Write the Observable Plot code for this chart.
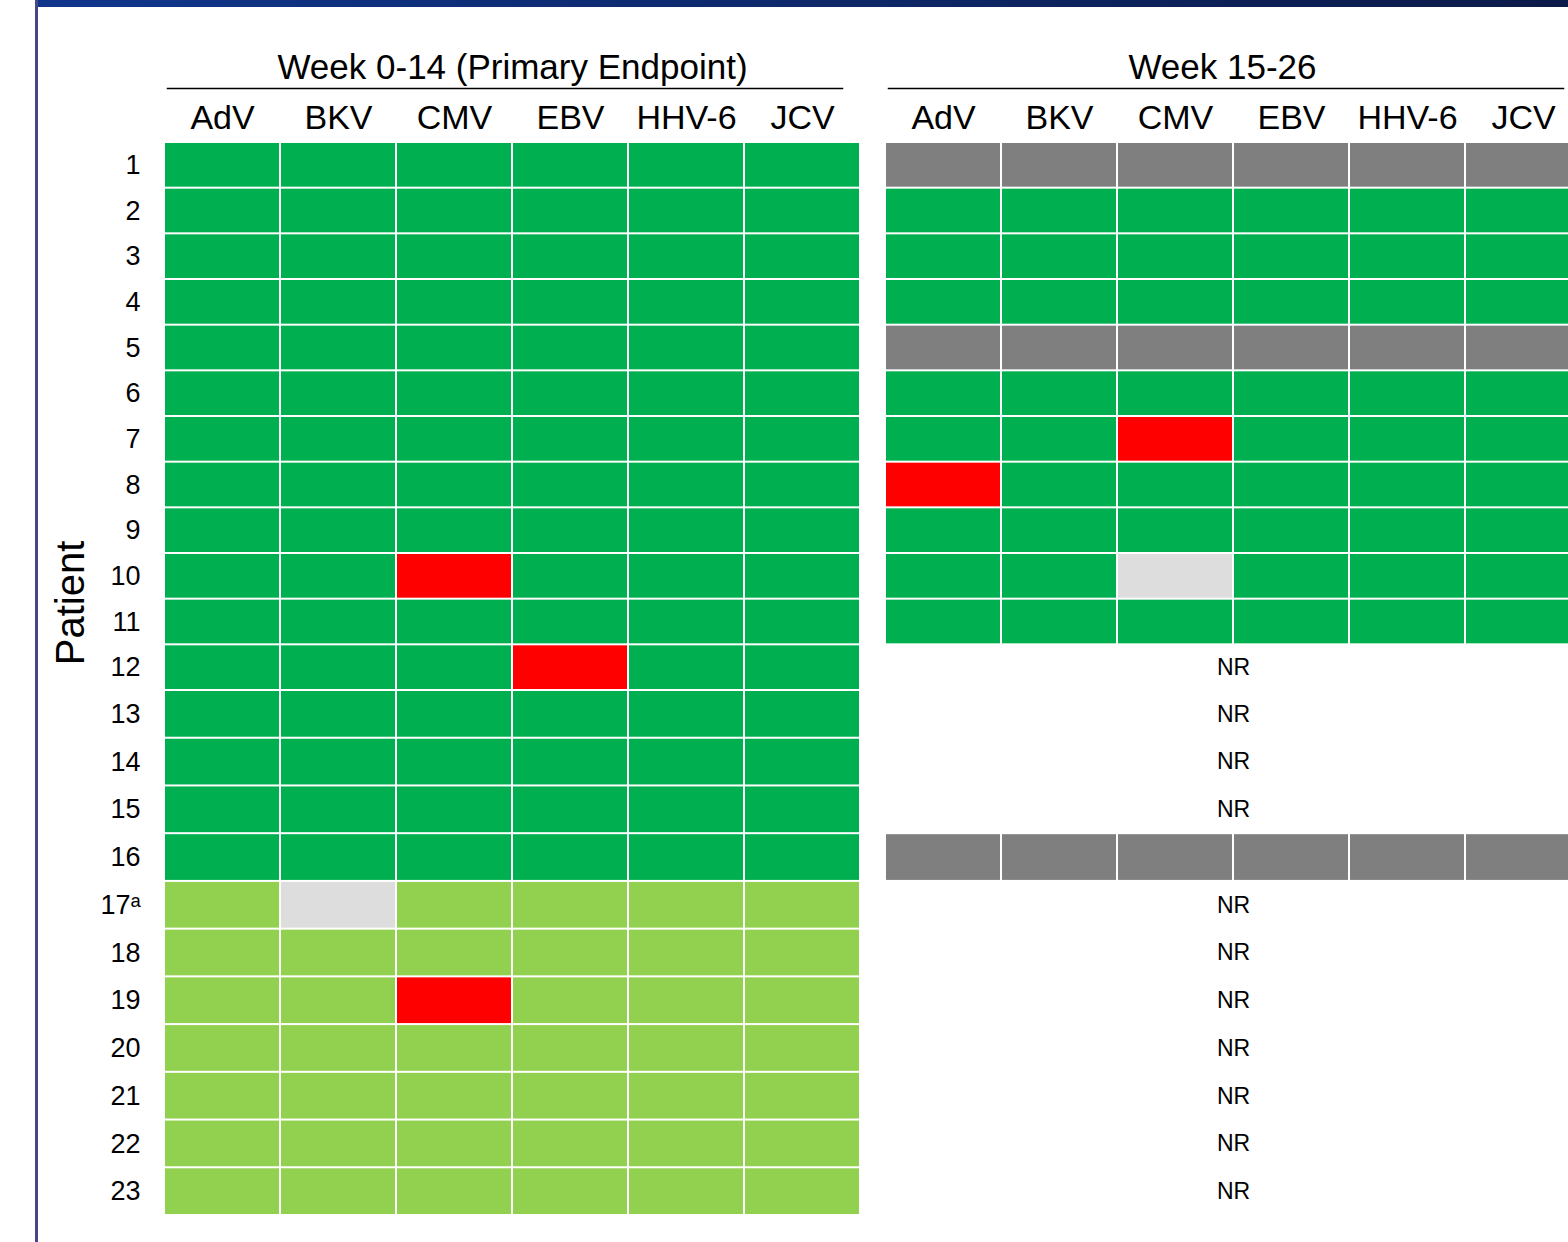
<!DOCTYPE html>
<html>
<head>
<meta charset="utf-8">
<script src="https://cdn.jsdelivr.net/npm/d3@7"></script>
<script src="https://cdn.jsdelivr.net/npm/@observablehq/plot@0.6"></script>
<style>
  html, body { margin: 0; padding: 0; background: #fff; overflow: hidden; width: 1568px; height: 1242px; }
  #topbar { position: absolute; left: 38px; top: 0; width: 1530px; height: 7px;
            background: linear-gradient(to right, #10368c, #0b1a48); }
  #leftline { position: absolute; left: 35px; top: 0; width: 3px; height: 1242px; background: #45478a; }
  #chart { position: absolute; left: 0; top: 0; }
</style>
</head>
<body>
<div id="topbar"></div>
<div id="leftline"></div>
<div id="chart"></div>
<script>
// ---- data ----
const periods = ["Week 0-14 (Primary Endpoint)", "Week 15-26"];
const viruses = ["AdV", "BKV", "CMV", "EBV", "HHV-6", "JCV"];
const patients = ["1","2","3","4","5","6","7","8","9","10","11","12","13","14","15","16","17ᵃ","18","19","20","21","22","23"];
// status codes: G = dark green, L = light green, R = red, N = light grey, D = dark grey, null row = NR (not reached)
const week0to14 = [
  ["G","G","G","G","G","G"],
  ["G","G","G","G","G","G"],
  ["G","G","G","G","G","G"],
  ["G","G","G","G","G","G"],
  ["G","G","G","G","G","G"],
  ["G","G","G","G","G","G"],
  ["G","G","G","G","G","G"],
  ["G","G","G","G","G","G"],
  ["G","G","G","G","G","G"],
  ["G","G","R","G","G","G"],
  ["G","G","G","G","G","G"],
  ["G","G","G","R","G","G"],
  ["G","G","G","G","G","G"],
  ["G","G","G","G","G","G"],
  ["G","G","G","G","G","G"],
  ["G","G","G","G","G","G"],
  ["L","N","L","L","L","L"],
  ["L","L","L","L","L","L"],
  ["L","L","R","L","L","L"],
  ["L","L","L","L","L","L"],
  ["L","L","L","L","L","L"],
  ["L","L","L","L","L","L"],
  ["L","L","L","L","L","L"]
];
const week15to26 = [
  ["D","D","D","D","D","D"],
  ["G","G","G","G","G","G"],
  ["G","G","G","G","G","G"],
  ["G","G","G","G","G","G"],
  ["D","D","D","D","D","D"],
  ["G","G","G","G","G","G"],
  ["G","G","R","G","G","G"],
  ["R","G","G","G","G","G"],
  ["G","G","G","G","G","G"],
  ["G","G","N","G","G","G"],
  ["G","G","G","G","G","G"],
  null, null, null, null,
  ["D","D","D","D","D","D"],
  null, null, null, null, null, null, null
];
const statusCodes = ["G", "L", "R", "N", "D"];
const statusColors = ["#00b050", "#92d050", "#ff0000", "#dddddd", "#7f7f7f"];

// ---- derived tables ----
const cells = [];
const nrRows = [];
[week0to14, week15to26].forEach((table, p) => {
  table.forEach((row, i) => {
    if (row == null) { nrRows.push({period: periods[p], idx: i, label: "NR"}); return; }
    row.forEach((s, j) => cells.push({period: periods[p], virus: viruses[j], idx: i, status: s}));
  });
});

const font = "'Liberation Sans', Arial, sans-serif";

const chart = Plot.plot({
  width: 1582,
  height: 1242,
  marginLeft: 163,
  marginRight: 0,
  marginTop: 142,
  marginBottom: 27,
  style: {fontFamily: font, maxWidth: "none", background: "transparent", color: "#000"},
  fx: {domain: periods, paddingInner: 0.0346, paddingOuter: 0, label: null},
  x: {domain: viruses, padding: 0, label: null},
  y: {type: "linear", domain: [0, 12, 23], range: [142, 690, 1215], label: null},
  color: {domain: statusCodes, range: statusColors},
  marks: [
    Plot.barY(cells, {fx: "period", x: "virus", y1: "idx", y2: d => d.idx + 1,
      fill: "status", inset: 1}),
    Plot.text(nrRows, {fx: "period", y: d => d.idx + 0.5, text: "label",
      fontSize: 23, fill: "#000"}),
    Plot.axisX({anchor: "top", tickSize: 0, tickPadding: 14, fontSize: 34, label: null}),
    Plot.axisFx({anchor: "top", ticks: [periods[0]], tickSize: 0, tickPadding: 64, fontSize: 35, label: null}),
    Plot.axisFx({anchor: "top", ticks: [periods[1]], tickSize: 0, tickPadding: 64, fontSize: 35, dx: -11, label: null}),
    Plot.frame({anchor: "top", stroke: "#000", strokeWidth: 1.5, dy: -54, insetLeft: 3, insetRight: 18}),
    Plot.axisY({anchor: "left", ticks: patients.map((_, i) => i + 0.5),
      tickFormat: v => patients[Math.floor(v)], tickSize: 0, tickPadding: 24,
      fontSize: 27, label: null}),
    Plot.text(["Patient"], {fx: () => periods[0], frameAnchor: "left", rotate: -90, textAnchor: "middle",
      dx: -93, dy: -76, fontSize: 40, fill: "#000"})
  ]
});
document.getElementById("chart").appendChild(chart);
</script>
</body>
</html>
